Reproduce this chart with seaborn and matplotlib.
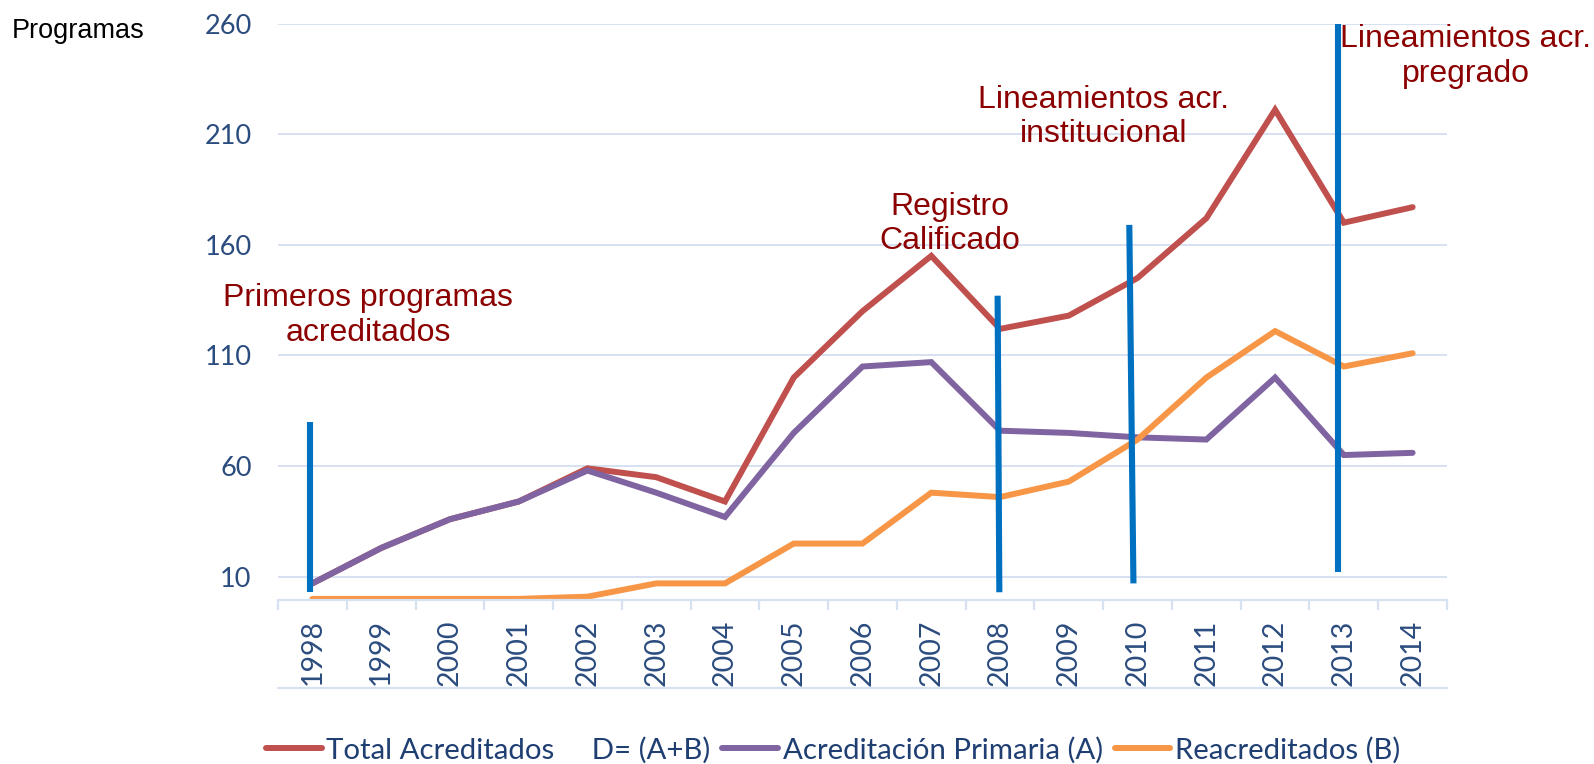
import matplotlib
matplotlib.use("Agg")
import matplotlib.pyplot as plt
import seaborn as sns
import pandas as pd
from matplotlib.lines import Line2D

years = ["1998", "1999", "2000", "2001", "2002", "2003", "2004", "2005", "2006",
         "2007", "2008", "2009", "2010", "2011", "2012", "2013", "2014"]
total = [7, 23, 36, 44, 59, 55, 44, 100, 130, 155, 122, 128, 145, 172, 221, 170, 177]
primaria = [7, 23, 36, 44, 58, 48, 37, 75, 105, 107, 76, 75, 73, 72, 100, 65, 66]
reacred = [0, 0, 0, 0, 1, 7, 7, 25, 25, 48, 46, 53, 72, 100, 121, 105, 111]
series_names = ["Total Acreditados     D= (A+B)", "Acreditación Primaria (A)", "Reacreditados (B)"]
series_colors = ["#C0504D", "#8064A2", "#F79646"]
yticks = [10, 60, 110, 160, 210, 260]

# annotation marker lines: (x top, x bottom, y bottom, y top) in category/data units
marker_lines = [(-0.03, -0.03, 3, 80), (9.965, 9.99, 3, 137),
                (11.88, 11.94, 7, 169), (14.92, 14.92, 12, 260)]
notes = ["Primeros programas\nacreditados", "Registro\nCalificado",
         "Lineamientos acr.\ninstitucional", "Lineamientos acr.\npregrado"]
note_pos = [(0.81, 128.0), (9.27, 169.4), (11.51, 217.8), (16.77, 245.1)]

sns.set_theme(style="white")
plt.rcParams["font.family"] = ["Lato", "DejaVu Sans"]

idx = list(range(len(years)))
df = pd.DataFrame({
    "x": idx * 3,
    "value": total + primaria + reacred,
    "serie": [series_names[0]] * len(years) + [series_names[1]] * len(years) + [series_names[2]] * len(years),
})

W, H = 1594, 764
fig = plt.figure(figsize=(W / 100, H / 100), dpi=100)
L, R, T, B = 278, 1447, 23.5, 600
ax = fig.add_axes([L / W, 1 - B / H, (R - L) / W, (B - T) / H])

grid_c = "#D6E1F2"
ax.set_xlim(-0.5, len(years) - 0.5)
ax.set_ylim(-0.5, 260)
ax.set_yticks(yticks)
ax.yaxis.grid(True, color=grid_c, lw=1.4)
ax.set_axisbelow(True)

sns.lineplot(data=df, x="x", y="value", hue="serie", hue_order=series_names,
             palette=series_colors, lw=4.3, ax=ax, legend=False,
             solid_capstyle="round", solid_joinstyle="miter")

for (xt, xb, yb, yt) in marker_lines:
    ax.plot([xb, xt], [yb, yt], color="#0070C0", lw=4.4, solid_capstyle="butt", zorder=5)

for txt, (nx, ny) in zip(notes, note_pos):
    ax.text(nx, ny, txt, ha="center", va="center", color="#8B0000", fontsize=23,
            family=["Liberation Sans", "DejaVu Sans"], linespacing=1.2, clip_on=False, zorder=6)

for s in ["top", "right", "left"]:
    ax.spines[s].set_visible(False)
ax.spines["bottom"].set_color(grid_c)
ax.spines["bottom"].set_linewidth(1.6)

tick_c = "#2B4C7E"
ax.set_xticks(idx)
ax.set_xticklabels(years, rotation=90, fontsize=20.5, color=tick_c)
ax.set_xticks([i - 0.5 for i in range(len(years) + 1)], minor=True)
ax.tick_params(axis="x", which="major", length=0, pad=14)
ax.tick_params(axis="x", which="minor", length=7, width=1.6, color=grid_c, bottom=True)
ax.tick_params(axis="y", length=0, pad=19, labelsize=19.5, labelcolor=tick_c)
ax.set_xlabel("")
ax.set_ylabel("")

# bottom border under the category labels
ax.plot([0, 1], [-0.153, -0.153], transform=ax.transAxes, color=grid_c, lw=1.6, clip_on=False)

fig.text(12 / W, 1 - 31 / H, "Programas", ha="left", va="center", fontsize=19.5,
         family=["Liberation Sans", "DejaVu Sans"], color="black")

handles = [Line2D([0], [0], color=c, lw=4.3, solid_capstyle="round") for c in series_colors]
leg = fig.legend(handles, series_names, loc="center", bbox_to_anchor=(0.5226, 0.018),
                 ncol=3, frameon=False, fontsize=21.2, handlelength=1.9, handletextpad=0.15,
                 columnspacing=0.4, labelcolor="#1F3F73")

fig.savefig("out.png", dpi=100)
